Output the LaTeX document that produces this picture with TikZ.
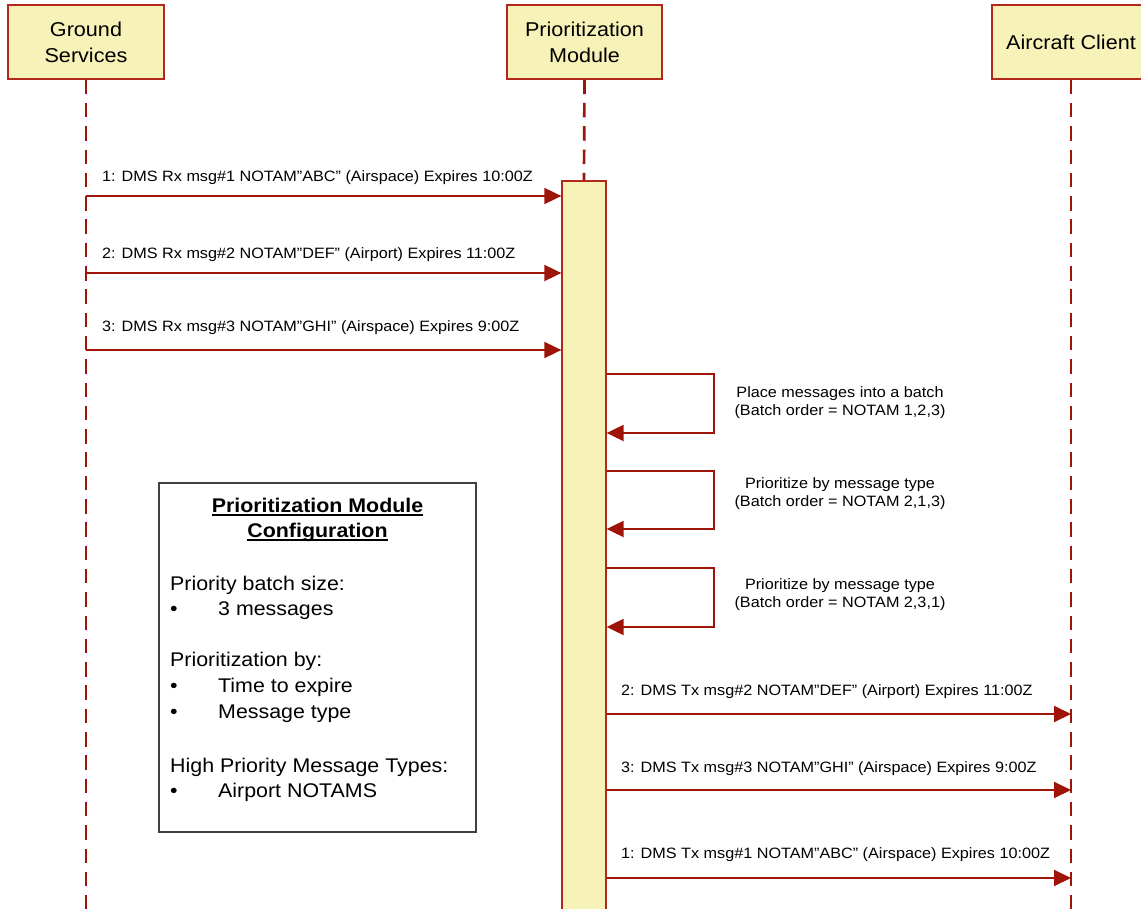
\documentclass[tikz,border=0pt]{standalone}
\usepackage{fontspec}
\setmainfont{Liberation Sans}[FakeStretch=1.08]
\usetikzlibrary{arrows.meta}

\definecolor{lifered}{RGB}{158,20,8}
\definecolor{boxred}{RGB}{178,40,30}
\definecolor{boxfill}{RGB}{247,243,184}
\definecolor{cfgline}{RGB}{64,64,64}

% underlined text with the rule at a fixed depth below the baseline
\newsavebox{\ulbox}
\newcommand{\headul}[1]{\sbox{\ulbox}{#1}\rlap{\usebox{\ulbox}}\rule[-3.6pt]{\wd\ulbox}{1.4pt}}

\begin{document}
\begin{tikzpicture}[x=1pt,y=-1pt,
  actor/.style={draw=boxred, line width=1.3pt, fill=boxfill, minimum width=156pt,
    minimum height=74pt, inner sep=0pt, align=center, font=\fontsize{20}{26}\selectfont},
  actbar/.style={draw=boxred, line width=1.3pt, fill=boxfill, minimum width=44pt,
    minimum height=740pt, inner sep=0pt},
  lifeline/.style={draw=lifered, line width=2.7pt, dash pattern=on 14.5pt off 8.8pt},
  msg/.style={draw=lifered, line width=1.9pt, -{Triangle[length=17pt,width=16pt]}},
  msglabel/.style={anchor=base west, inner sep=0pt, font=\fontsize{15}{18}\selectfont},
  looplabel/.style={anchor=center, inner sep=0pt, align=center, font=\fontsize{15}{18}\selectfont},
  cfgbox/.style={draw=cfgline, line width=1.4pt, fill=white, minimum width=317pt,
    minimum height=349pt, inner sep=0pt},
  cfgtitle/.style={anchor=base, inner sep=0pt, font=\fontsize{19.8}{25}\selectfont\bfseries},
  cfgtext/.style={anchor=base west, inner sep=0pt, font=\fontsize{19.8}{25}\selectfont},
]
\useasboundingbox (0,0) rectangle (1141,909);
\clip (0,0) rectangle (1141,909);

% participants
\node[actor] (gs) at (86,42) {Ground\\Services};
\node[actor, minimum width=155pt] (pm) at (584.5,42) {Prioritization\\Module};
\node[actor, minimum width=158pt] (ac) at (1071,42) {Aircraft Client};

% activation bar of the prioritization module
\node[actbar] (act) at (584,551) {};

% lifelines
\coordinate (gsend) at (gs.south |- 0,915);
\coordinate (acend) at (ac.south |- 0,915);
\draw[lifeline] (gs.south) -- (gsend);
\draw[lifeline] (pm.south) -- (act.north);
\draw[lifeline] (ac.south) -- (acend);

% incoming messages
\draw[msg] (gs |- 0,196) -- (act.west |- 0,196);
\node[msglabel] (r1) at (102,182) {1: DMS Rx msg\#1 NOTAM”ABC” (Airspace) Expires 10:00Z};
\draw[msg] (gs |- 0,273) -- (act.west |- 0,273);
\node[msglabel] (r2) at (102,259) {2: DMS Rx msg\#2 NOTAM”DEF” (Airport) Expires 11:00Z};
\draw[msg] (gs |- 0,350) -- (act.west |- 0,350);
\node[msglabel] (r3) at (102,332) {3: DMS Rx msg\#3 NOTAM”GHI” (Airspace) Expires 9:00Z};

% self messages
\draw[msg] (act.east |- 0,374) -- ++(107,0) -- ++(0,59) -- (act.east |- 0,433);
\node[looplabel] (s1) at (840,403) {Place messages into a batch\\(Batch order = NOTAM 1,2,3)};
\draw[msg] (act.east |- 0,471) -- ++(107,0) -- ++(0,58) -- (act.east |- 0,529);
\node[looplabel] (s2) at (840,494) {Prioritize by message type\\(Batch order = NOTAM 2,1,3)};
\draw[msg] (act.east |- 0,568) -- ++(107,0) -- ++(0,59) -- (act.east |- 0,627);
\node[looplabel] (s3) at (840,595) {Prioritize by message type\\(Batch order = NOTAM 2,3,1)};

% outgoing messages
\draw[msg] (act.east |- 0,714) -- (ac |- 0,714);
\node[msglabel] (t1) at (621,695) {2: DMS Tx msg\#2 NOTAM”DEF” (Airport) Expires 11:00Z};
\draw[msg] (act.east |- 0,790) -- (ac |- 0,790);
\node[msglabel] (t2) at (621,772) {3: DMS Tx msg\#3 NOTAM”GHI” (Airspace) Expires 9:00Z};
\draw[msg] (act.east |- 0,878) -- (ac |- 0,878);
\node[msglabel] (t3) at (621,858) {1: DMS Tx msg\#1 NOTAM”ABC” (Airspace) Expires 10:00Z};

% configuration note
\node[cfgbox] (cfg) at (317.5,657.5) {};
\node[cfgtitle] (ct1) at (317.5,512) {\headul{Prioritization Module}};
\node[cfgtitle] (ct2) at (317.5,537) {\headul{Configuration}};
\node[cfgtext] (c1) at (170,590) {Priority batch size:};
\node[cfgtext] (b1) at (170,615) {•};
\node[cfgtext] (c2) at (218,615) {3 messages};
\node[cfgtext] (c3) at (170,666) {Prioritization by:};
\node[cfgtext] (b2) at (170,692) {•};
\node[cfgtext] (c4) at (218,692) {Time to expire};
\node[cfgtext] (b3) at (170,718) {•};
\node[cfgtext] (c5) at (218,718) {Message type};
\node[cfgtext] (c6) at (170,772) {High Priority Message Types:};
\node[cfgtext] (b4) at (170,797) {•};
\node[cfgtext] (c7) at (218,797) {Airport NOTAMS};
\end{tikzpicture}
\end{document}
